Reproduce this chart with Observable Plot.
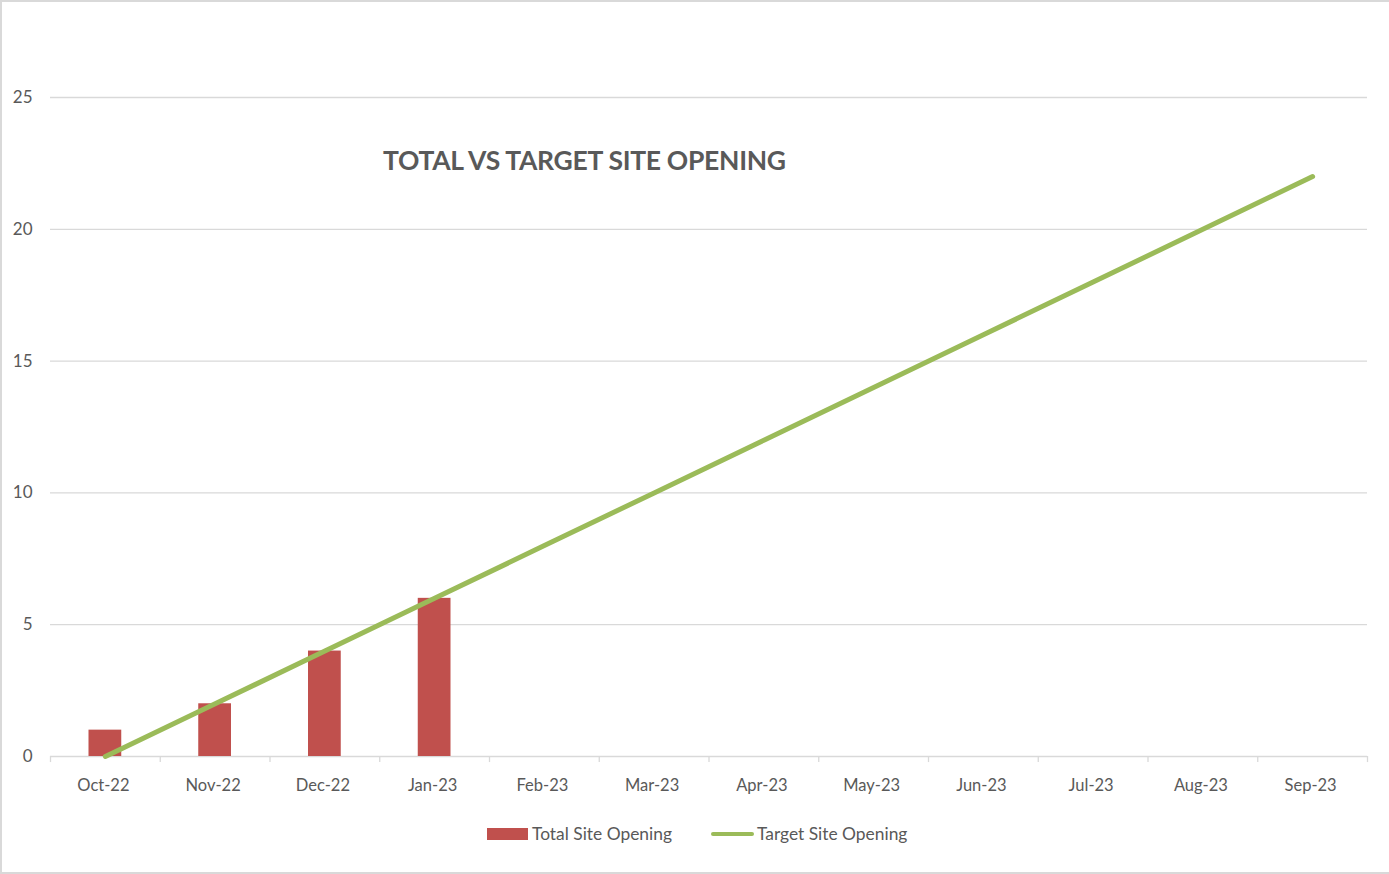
<!DOCTYPE html>
<html>
<head>
<meta charset="utf-8">
<script src="https://cdn.jsdelivr.net/npm/d3@7"></script>
<script src="https://cdn.jsdelivr.net/npm/@observablehq/plot@0.6"></script>
<style>
  html, body { margin: 0; padding: 0; background: #fff; }
  #frame { position: relative; width: 1389px; height: 874px; box-sizing: border-box; border: 2px solid #d9d9d9; border-right: none; overflow: hidden; font-family: Lato, "Open Sans", sans-serif; color: #595959; }
  #chart { position: absolute; left: -2px; top: -2px; }
  #title { position: absolute; left: 381px; top: 142px; font-size: 26.5px; font-weight: bold; color: #595959; white-space: nowrap; letter-spacing: -0.3px; }
  #legend { position: absolute; top: 821px; left: 485px; display: flex; align-items: center; font-size: 17.4px; color: #595959; white-space: nowrap; }
  .sw-bar { width: 41px; height: 12px; background: #C0504D; margin-right: 4px; }
  .sw-line { width: 43px; height: 4px; background: #9BBB59; border-radius: 2px; margin-left: 39px; margin-right: 3px; }
</style>
</head>
<body>
<div id="frame">
  <div id="chart"></div>
  <div id="title">TOTAL VS TARGET SITE OPENING</div>
  <div id="legend"><div class="sw-bar"></div><span>Total Site Opening</span><div class="sw-line"></div><span>Target Site Opening</span></div>
</div>
<script>
const months = ["Oct-22","Nov-22","Dec-22","Jan-23","Feb-23","Mar-23","Apr-23","May-23","Jun-23","Jul-23","Aug-23","Sep-23"];
const totalSiteOpening = [1, 2, 4, 6];
const targetSiteOpening = [0, 2, 4, 6, 8, 10, 12, 14, 16, 18, 20, 22];
const yTicks = [0, 5, 10, 15, 20, 25];

const totals = totalSiteOpening.map((v, i) => ({month: months[i], value: v}));
const targets = targetSiteOpening.map((v, i) => ({month: months[i], value: v}));

const W = 1389, H = 810, ML = 50, MR = 22, MT = 97, MB = 54;
const bw = (W - ML - MR) / months.length;

const plot = Plot.plot({
  width: W,
  height: H,
  marginLeft: ML,
  marginRight: MR,
  marginTop: MT,
  marginBottom: MB,
  style: {fontFamily: "Lato, 'Open Sans', sans-serif", fontSize: "17px", color: "#595959", background: "transparent"},
  x: {domain: months, padding: 0, round: false, label: null},
  y: {domain: [0, 25], label: null},
  marks: [
    Plot.ruleY(yTicks, {stroke: "#d9d9d9", strokeWidth: 1.3}),
    Plot.ruleX(months, {x: d => d, dx: -bw / 2, y1: 0, y2: -0.23, stroke: "#d9d9d9", strokeWidth: 1.3}),
    Plot.ruleX(months.slice(-1), {x: d => d, dx: bw / 2, y1: 0, y2: -0.23, stroke: "#d9d9d9", strokeWidth: 1.3}),
    Plot.axisY({ticks: yTicks, tickSize: 0, tickPadding: 18, fontSize: 17, label: null}),
    Plot.axisX({tickSize: 0, tickPadding: 23, fontSize: 16.5, label: null, dx: -2}),
    Plot.barY(totals, {x: "month", y: "value", fill: "#C0504D", insetLeft: 38.5, insetRight: 38.5}),
    Plot.line(targets, {x: "month", y: "value", stroke: "#9BBB59", strokeWidth: 5, strokeLinecap: "round"})
  ]
});
document.getElementById("chart").appendChild(plot);
</script>
</body>
</html>
